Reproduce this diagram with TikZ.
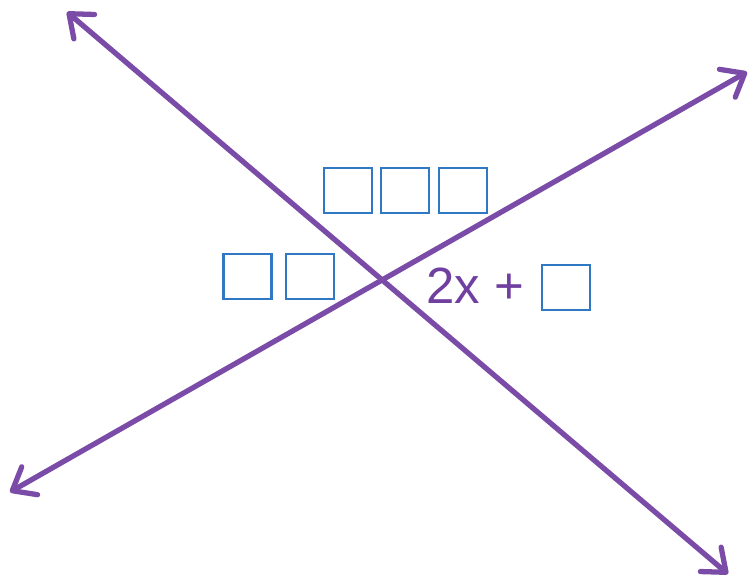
\documentclass[tikz,border=0pt]{standalone}
\usepackage{fontspec}
\setmainfont{Liberation Sans}
\usepackage{tikz}
\usetikzlibrary{arrows.meta}
\definecolor{lineviolet}{RGB}{122,76,168}
\definecolor{textviolet}{RGB}{112,64,160}
\definecolor{boxblue}{RGB}{47,120,196}

\begin{document}
\begin{tikzpicture}[x=0.02cm, y=-0.02cm,
  blank/.style={draw=boxblue, line width=1.2pt, minimum width=0.96cm, minimum height=0.9cm, inner sep=0pt},
  ray/.style={{Straight Barb[length=4mm,width=6.4mm,round]}-{Straight Barb[length=4mm,width=6.4mm,round]}, draw=lineviolet, line width=3pt},
  expr/.style={font=\fontsize{29}{33}\selectfont, text=textviolet, inner sep=0pt},
]
\useasboundingbox (0,0) rectangle (750,576);
\coordinate (nw) at (67,12);
\coordinate (se) at (728,574);
\coordinate (sw) at (10,492);
\coordinate (ne) at (747,72);
\draw[ray] (nw) -- (se);
\draw[ray] (sw) -- (ne);
\node[blank] (top1) at (348,190.5) {};
\node[blank] (top2) at (405,190.5) {};
\node[blank] (top3) at (463,190.5) {};
\node[blank] (left1) at (247.5,276.5) {};
\node[blank] (left2) at (310,276.5) {};
\node[expr, anchor=base west] (sum) at (426,303) {2x +};
\node[blank] (right1) at (566,287.5) {};
\end{tikzpicture}
\end{document}
